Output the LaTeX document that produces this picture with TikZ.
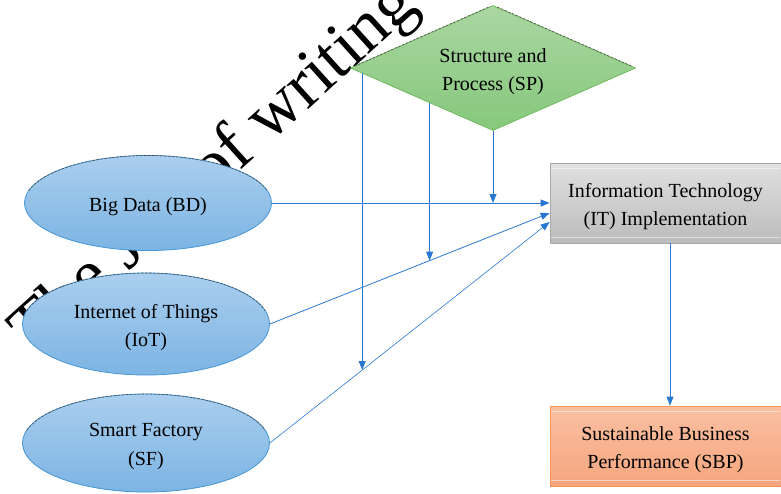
\documentclass[tikz,border=0pt]{standalone}
\usepackage{fontspec}
\setmainfont{Liberation Serif}
\usetikzlibrary{shapes.geometric,arrows.meta,calc}

\definecolor{linkblue}{RGB}{40,120,210}
\definecolor{ellTop}{RGB}{170,206,238}
\definecolor{ellBot}{RGB}{124,180,227}
\definecolor{ellLine}{RGB}{68,150,212}
\definecolor{dmTop}{RGB}{170,214,162}
\definecolor{dmBot}{RGB}{134,200,124}
\definecolor{dmLine}{RGB}{110,186,92}
\definecolor{itTop}{RGB}{224,224,224}
\definecolor{itBot}{RGB}{188,188,188}
\definecolor{itLine}{RGB}{168,168,168}
\definecolor{sbTop}{RGB}{250,192,162}
\definecolor{sbBot}{RGB}{246,166,126}
\definecolor{sbLine}{RGB}{245,148,88}

\tikzset{
  label font/.style={font=\fontsize{20}{28.5}\selectfont, align=center},
  % caption set slightly below the centre of its shape
  caption/.style={label={[label font, yshift=-3.5pt]center:{#1}}},
  factor/.style={ellipse, draw=ellLine, line width=0.8pt, top color=ellTop,
    bottom color=ellBot, inner sep=0pt},
  moderator/.style={diamond, shape aspect=2.28, draw=dmLine, line width=0.8pt,
    top color=dmTop, bottom color=dmBot, inner sep=0pt},
  greybox/.style={rectangle, draw=itLine, line width=0.8pt, top color=itTop,
    bottom color=itBot, inner sep=0pt},
  orangebox/.style={rectangle, draw=sbLine, line width=0.8pt, top color=sbTop,
    bottom color=sbBot, inner sep=0pt},
  link/.style={draw=linkblue, line width=0.8pt,
    -{Triangle[length=9pt,width=7pt]}},
  edgedash/.style={draw=black!70, line width=0.6pt, dash pattern=on 2.5pt off 1.5pt},
  bevel/.style={draw=white, opacity=0.5, line width=0.8pt},
}

\begin{document}
\begin{tikzpicture}[x=1pt,y=1pt]
\useasboundingbox (0,0) rectangle (781,-493);

% large rotated text lying behind the diagram
\node[font=\fontsize{70}{70}\selectfont, rotate=42, anchor=base west,
      inner sep=0pt] (wm) at (34,-356) {The Joy of writing};

% factors
\node[factor, minimum width=247pt, minimum height=95pt, caption={Big Data (BD)}]
  (bd) at (148,-203) {};
\node[factor, minimum width=247pt, minimum height=102pt, caption={Internet of Things\\(IoT)}]
  (iot) at (146,-324) {};
\node[factor, minimum width=247pt, minimum height=98pt, caption={Smart Factory\\(SF)}]
  (sf) at (146,-443) {};

% moderator
\node[moderator, minimum width=285pt, minimum height=125pt, caption={Structure and\\Process (SP)}]
  (sp) at (493,-68) {};

% mediator and outcome
\node[greybox, minimum width=231pt, minimum height=80pt, caption={Information Technology\\(IT) Implementation}]
  (it) at (665.5,-203) {};
\node[orangebox, minimum width=231pt, minimum height=80pt, caption={Sustainable Business\\Performance (SBP)}]
  (sbp) at (665.5,-446) {};

% dark dashed upper rims
\foreach \n/\ry in {bd/47.5, iot/51, sf/49}{
  \draw[edgedash] ($(\n.center)+(165:123.5 and \ry)$)
    arc[start angle=165, end angle=15, x radius=123.5, y radius=\ry];
}
\draw[edgedash] ($(sp.west)!0.03!(sp.north)$) -- ($(sp.west)!0.97!(sp.north)$);
\draw[edgedash] ($(sp.north)!0.03!(sp.east)$) -- ($(sp.north)!0.97!(sp.east)$);

% light bevel lines inside the boxes
\foreach \n in {it, sbp}{
  \draw[bevel] ($(\n.north west)+(1.5,-6)$) -- ($(\n.north east)+(-1.5,-6)$);
  \draw[bevel] ($(\n.south west)+(1.5,6)$) -- ($(\n.south east)+(-1.5,6)$);
}

% arrival points on the mediator
\coordinate (itA) at (bd.east -| it.west);
\coordinate (itB) at ($(it.west)+(0,-10)$);
\coordinate (itC) at ($(it.west)+(0,-19)$);

% direct paths
\draw[link] (bd.east) -- (itA);
\draw[link] (iot.east) -- (itB);
\draw[link, line width=0.6pt] (sf.east) -- (itC);

% moderating paths onto the direct paths
\coordinate (m1) at (sp.south |- itA);
\coordinate (m2) at ($(iot.east)!0.571!(itB)$);
\coordinate (m3) at ($(sf.east)!0.33!(itC)$);
\coordinate (m2top) at ($(m2)+(0,300)$);
\coordinate (m3top) at ($(m3)+(0,400)$);
\coordinate (s2) at (intersection of sp.west--sp.south and m2--m2top);
\coordinate (s3) at (intersection of sp.west--sp.south and m3--m3top);
\draw[link] (sp.south) -- (m1);
\draw[link] (s2) -- (m2);
\draw[link] (s3) -- (m3);

% mediator to outcome
\coordinate (d1) at ($(it.south)+(4.5,0)$);
\draw[link] (d1) -- (d1 |- sbp.north);
\end{tikzpicture}
\end{document}
